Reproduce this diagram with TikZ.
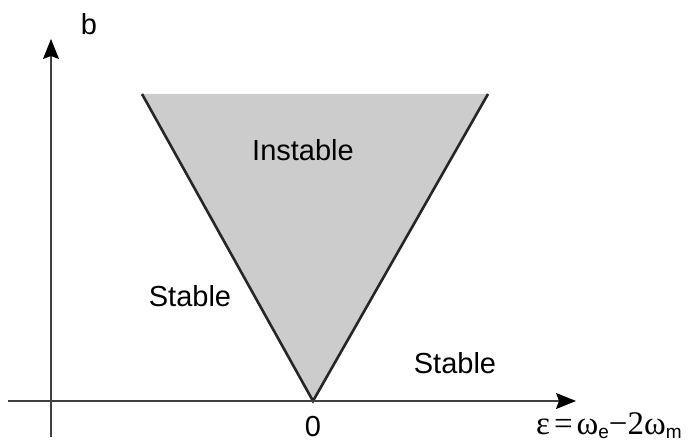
\documentclass[tikz,border=0pt]{standalone}
\usepackage{fontspec}
\setmainfont{Liberation Sans}
\newfontfamily\serifx{Liberation Serif}
\newfontfamily\sansx{Liberation Sans}
\usetikzlibrary{arrows.meta}
\newcommand{\subx}[1]{\raisebox{-4pt}{\sansx\fontsize{19}{20}\selectfont #1}}
\begin{document}
\begin{tikzpicture}[x=1pt,y=-1pt,
  axis/.style={line width=1.3pt,draw=black!75,-{Stealth[length=20pt,width=16pt,inset=3pt,black]}},
  lbl/.style={font=\fontsize{29}{34}\selectfont},
  edge/.style={line width=2.6pt,draw=black!85}]
\useasboundingbox (0,0) rectangle (688,443);
\coordinate (tl) at (142,94);
\coordinate (tr) at (488,94);
\coordinate (v) at (313,401);
\fill[black!20] (tl) -- (tr) -- (v) -- cycle;
\draw[edge] (tl) -- (v) -- (tr);
\coordinate (xs) at (8,401);
\coordinate (xe) at (576,401);
\coordinate (ys) at (51,437);
\coordinate (ye) at (51,39);
\draw[axis] (xs) -- (xe);
\draw[axis] (ys) -- (ye);
\node[lbl] (b) at (89,24) {b};
\node[lbl] (ins) at (303,150) {Instable};
\node[lbl] (st1) at (190,296) {Stable};
\node[lbl] (st2) at (455,363) {Stable};
\node[lbl,anchor=base] (zero) at (313,436) {0};
\node[anchor=base west,inner sep=0pt,font=\fontsize{33}{36}\selectfont\serifx] (eps) at (536,434) {ε\hspace{4pt}=\hspace{4pt}ω\subx{e}−2ω\subx{m}};
\end{tikzpicture}
\end{document}
